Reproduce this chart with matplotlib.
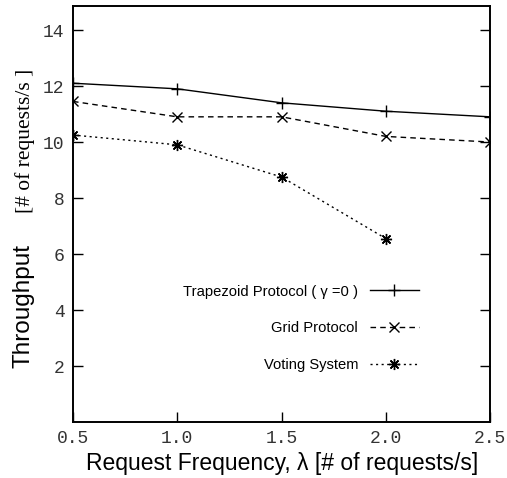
import matplotlib
matplotlib.use("Agg")
import matplotlib.pyplot as plt

# request frequency (lambda) and throughput per protocol
freq = [0.5, 1.0, 1.5, 2.0, 2.5]
trapezoid = [12.1, 11.9, 11.4, 11.1, 10.9]
grid = [11.45, 10.9, 10.9, 10.2, 10.0]
voting_freq = [0.5, 1.0, 1.5, 2.0]
voting = [10.25, 9.9, 8.75, 6.55]

xticks = [0.5, 1.0, 1.5, 2.0, 2.5]
xticklabels = ["0.5", "1.0", "1.5", "2.0", "2.5"]
yticks = [2, 4, 6, 8, 10, 12, 14]

fig = plt.figure(figsize=(5.07, 4.78), dpi=100)
ax = fig.add_axes([0.144, 0.117, 0.823, 0.870])

ax.plot(freq, trapezoid, color="black", lw=1.0, marker="+", ms=8, mew=1.0,
        label="Trapezoid Protocol ( γ =0 )")
ax.plot(freq, grid, color="black", lw=1.0, ls=(0, (4, 3)), marker="x", ms=7, mew=1.0,
        label="Grid Protocol")
ax.plot(voting_freq, voting, color="black", lw=1.0, ls=(0, (1.5, 2.5)), marker=(8, 2, 0),
        ms=8, mew=1.0, label="Voting System")

ax.set_xlim(0.5, 2.5)
ax.set_ylim(0, 14.85)
ax.set_xticks(xticks)
ax.set_xticklabels(xticklabels, family="Liberation Mono", fontsize=13, color="#333333")
ax.set_yticks(yticks)
ax.set_yticklabels([str(v) for v in yticks], family="Liberation Mono", fontsize=13,
                   color="#333333")
ax.tick_params(direction="in", length=7, width=1.0, left=True, right=True, top=False,
               bottom=True, pad=6, color="black")
for s in ax.spines.values():
    s.set_linewidth(1.4)

ax.set_xlabel("Request Frequency, λ [# of requests/s]", family="Liberation Sans",
              fontsize=16.5, labelpad=3)

fig.text(0.047, 0.36, "Throughput", rotation=90, ha="center", va="center",
         family="Liberation Sans", fontsize=17.5)
fig.text(0.05, 0.705, "[# of requests/s ]", rotation=90, ha="center", va="center",
         family="Liberation Serif", fontsize=15.5)

leg = ax.legend(loc="lower right", bbox_to_anchor=(0.86, 0.088), markerfirst=False,
                frameon=False, handlelength=3.3, labelspacing=1.55,
                prop={"family": "Liberation Sans", "size": 10.6})

fig.savefig("out.png", dpi=100)
